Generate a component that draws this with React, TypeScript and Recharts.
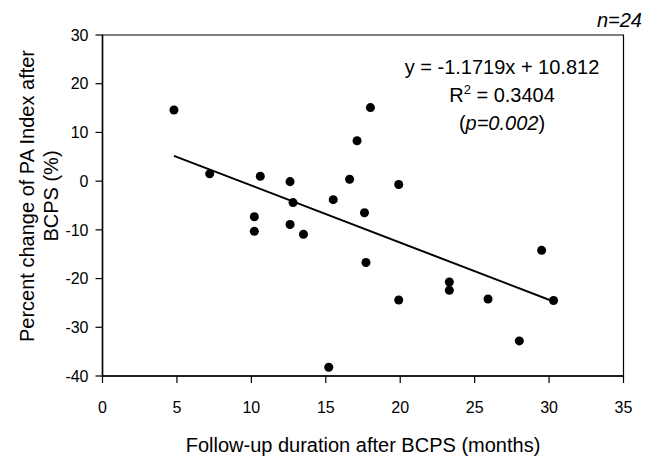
import { ScatterChart, Scatter, XAxis, YAxis, ReferenceLine, ReferenceArea } from "recharts";

const followUp = [4.8, 7.2, 10.6, 12.6, 12.8, 15.5, 16.6, 10.2, 10.2, 12.6, 13.5, 15.2, 18.0, 17.1, 19.9, 17.6, 17.7, 19.9, 23.3, 23.3, 25.9, 28.0, 29.5, 30.3];
const paChange = [14.6, 1.5, 1.0, -0.1, -4.4, -3.8, 0.4, -7.3, -10.3, -8.9, -10.9, -38.2, 15.1, 8.3, -0.7, -6.5, -16.7, -24.4, -20.7, -22.4, -24.2, -32.8, -14.2, -24.5];
const xTicks = [0, 5, 10, 15, 20, 25, 30, 35];
const yTicks = [-40, -30, -20, -10, 0, 10, 20, 30];
const trendX = [4.8, 30.3];
const trendY = [5.2, -24.7];

const points = followUp.map((x, i) => ({ x, y: paChange[i] }));
const font = "'Liberation Sans', Arial, sans-serif";

const App = () => {
  return (
    <div style={{ position: "absolute", left: 0, top: 0, width: 659, height: 457, background: "#fff" }}>
      <ScatterChart
        width={659}
        height={457}
        margin={{ top: 35, right: 35.5, bottom: 41, left: 42.5 }}
      >
        <XAxis
          type="number"
          dataKey="x"
          domain={[0, 35]}
          ticks={xTicks}
          height={40}
          axisLine={{ stroke: "#000", strokeWidth: 1.5 }}
          tickLine={{ stroke: "#000", strokeWidth: 1.2 }}
          tickSize={7}
          tickMargin={19}
          tick={{ fill: "#000", fontSize: 16, fontFamily: font }}
        />
        <YAxis
          type="number"
          dataKey="y"
          domain={[-40, 30]}
          ticks={yTicks}
          width={60}
          axisLine={{ stroke: "#000", strokeWidth: 1.5 }}
          tickLine={{ stroke: "#000", strokeWidth: 1.2 }}
          tickSize={7}
          tickMargin={7}
          tick={{ fill: "#000", fontSize: 16, fontFamily: font }}
        />
        <ReferenceArea x1={0} x2={35} y1={-40} y2={30} fill="none" stroke="#000" strokeWidth={1.2} />
        <ReferenceLine
          segment={[
            { x: trendX[0], y: trendY[0] },
            { x: trendX[1], y: trendY[1] },
          ]}
          stroke="#000"
          strokeWidth={2}
        />
        <Scatter data={points} fill="#000" shape="circle" isAnimationActive={false} />
      </ScatterChart>
      <svg
        width={659}
        height={457}
        style={{ position: "absolute", left: 0, top: 0, pointerEvents: "none" }}
        fontFamily={font}
      >
        <text x={642} y={27} fontSize={20} fontStyle="italic" textAnchor="end" fill="#000">n=24</text>
        <text x={502} y={74} fontSize={20} textAnchor="middle" fill="#000">y = -1.1719x + 10.812</text>
        <text x={502} y={102} fontSize={20} textAnchor="middle" fill="#000">
          R<tspan dy={-8} fontSize={13}>2</tspan><tspan dy={8}> = 0.3404</tspan>
        </text>
        <text x={502} y={130} fontSize={20} textAnchor="middle" fill="#000">
          (<tspan fontStyle="italic">p=0.002</tspan>)
        </text>
        <text x={363} y={452} fontSize={20} textAnchor="middle" fill="#000">Follow-up duration after BCPS (months)</text>
        <text transform="translate(34,196) rotate(-90)" fontSize={20} textAnchor="middle" fill="#000">Percent change of PA Index after</text>
        <text transform="translate(58,196) rotate(-90)" fontSize={20} textAnchor="middle" fill="#000">BCPS (%)</text>
      </svg>
    </div>
  );
};

export default App;
